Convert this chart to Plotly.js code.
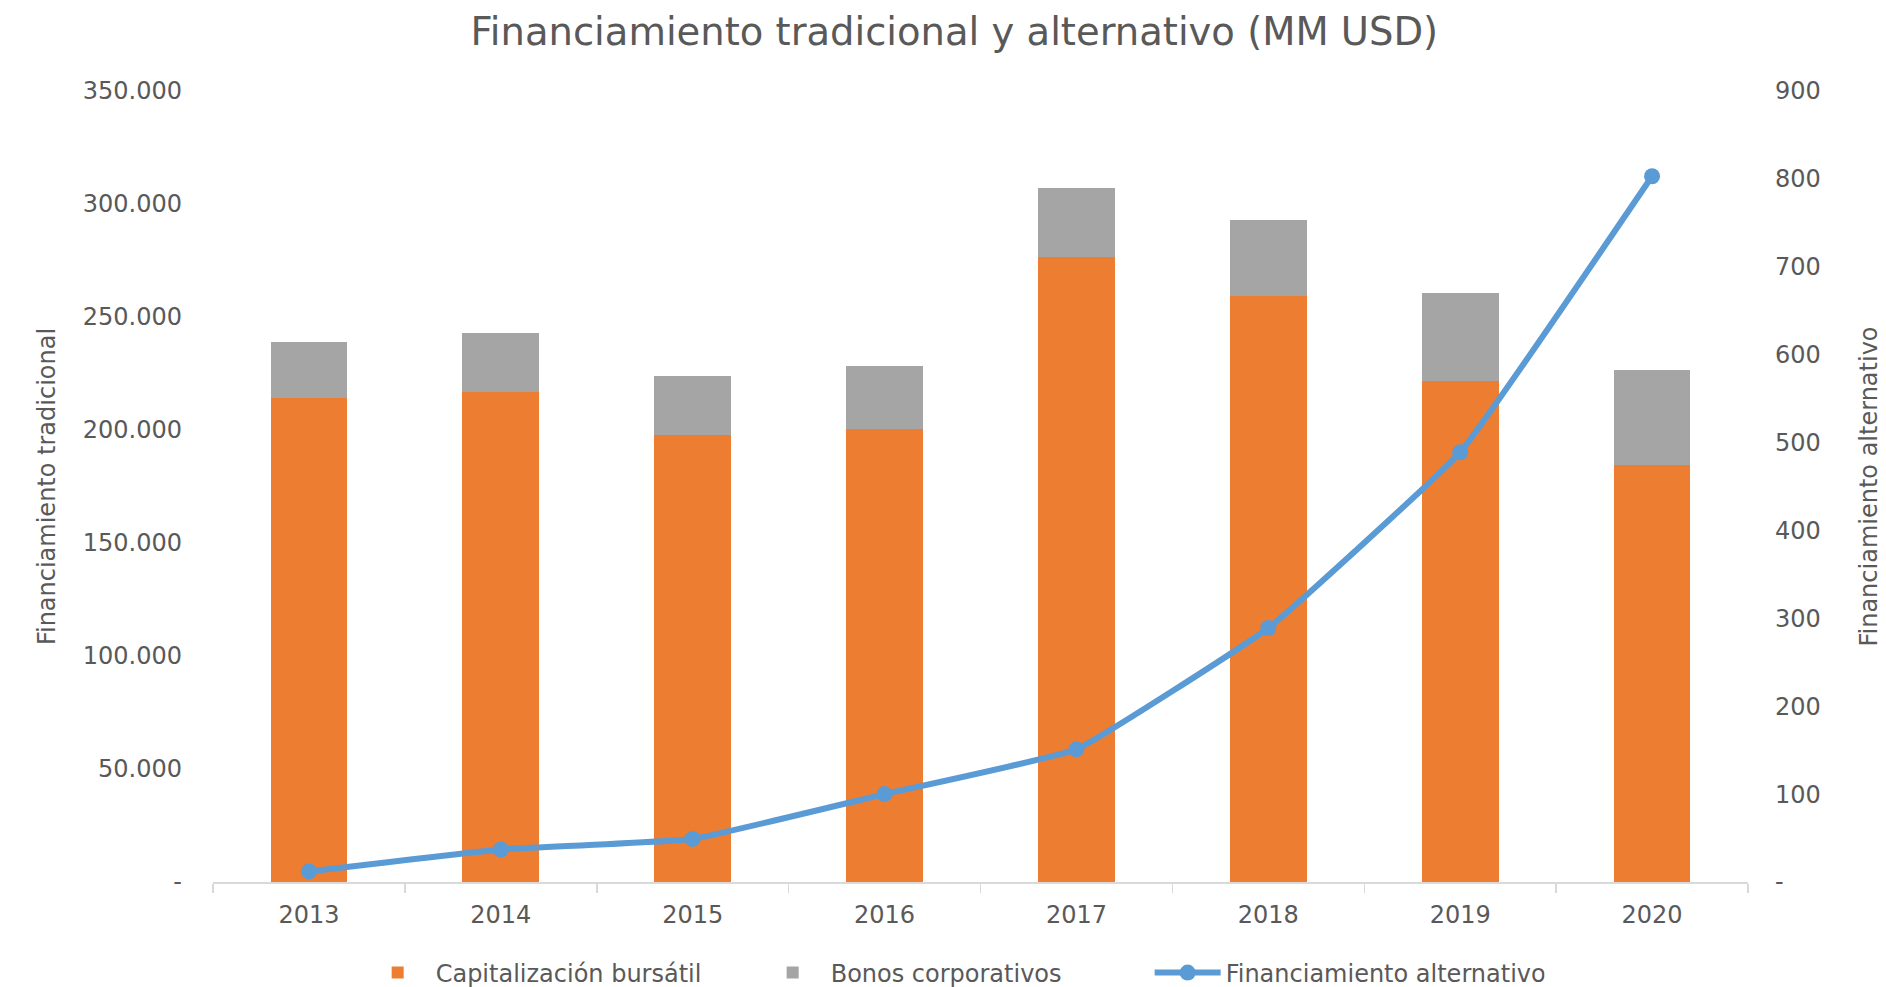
<!DOCTYPE html>
<html>
<head>
<meta charset="utf-8">
<script src="https://cdn.plot.ly/plotly-3.0.1.min.js"></script>
<style>
  html, body { margin: 0; padding: 0; background: #ffffff; }
  #chart { width: 1886px; height: 987px; }
</style>
</head>
<body>
<div id="chart"></div>
<script>
// ---- Data ----
const years = ["2013", "2014", "2015", "2016", "2017", "2018", "2019", "2020"];
const capitalizacion = [214000, 216700, 197800, 200400, 276600, 259200, 221700, 184300];
const bonos = [25100, 26100, 26300, 28100, 30700, 33700, 38900, 42300];
const alternativo = [12, 37, 49, 100, 151, 289, 489, 803];

const leftTickVals = [0, 50000, 100000, 150000, 200000, 250000, 300000, 350000];
const leftTickText = ["-", "50.000", "100.000", "150.000", "200.000", "250.000", "300.000", "350.000"];
const rightTickVals = [0, 100, 200, 300, 400, 500, 600, 700, 800, 900];
const rightTickText = ["-", "100", "200", "300", "400", "500", "600", "700", "800", "900"];

const textColor = "#595959";
const tickFont = { family: "DejaVu Sans", size: 24, color: textColor };
const titleFont = { family: "DejaVu Sans", size: 24, color: textColor };

const traces = [
  {
    type: "bar", name: "Capitalización bursátil", x: years, y: capitalizacion,
    marker: { color: "#ED7D31" }, yaxis: "y", hoverinfo: "skip"
  },
  {
    type: "bar", name: "Bonos corporativos", x: years, y: bonos,
    marker: { color: "#A5A5A5" }, yaxis: "y", hoverinfo: "skip"
  },
  {
    type: "scatter", mode: "lines+markers", name: "Financiamiento alternativo",
    x: years, y: alternativo, yaxis: "y2",
    line: { color: "#5B9BD5", width: 6, shape: "spline", smoothing: 0.3 },
    marker: { color: "#5B9BD5", size: 16 }, hoverinfo: "skip"
  }
];

const layout = {
  width: 1886, height: 987,
  paper_bgcolor: "#ffffff", plot_bgcolor: "#ffffff",
  margin: { l: 213, r: 138, t: 91, b: 105 },
  barmode: "stack",
  bargap: 0.6,
  showlegend: true,
  title: {
    text: "Financiamiento tradicional y alternativo (MM USD)",
    font: { family: "DejaVu Sans", size: 38.5, color: textColor },
    xref: "container", x: 0.506, xanchor: "center",
    yref: "container", y: 0.968, yanchor: "middle"
  },
  xaxis: {
    type: "category",
    showgrid: false, zeroline: false,
    showline: true, linecolor: "#d9d9d9", linewidth: 1.5,
    ticks: "outside", tickson: "boundaries", ticklen: 9, tickcolor: "#d9d9d9", tickwidth: 1.5,
    ticklabelstandoff: 11,
    tickfont: tickFont,
    fixedrange: true
  },
  yaxis: {
    range: [0, 350000],
    tickvals: leftTickVals, ticktext: leftTickText,
    showgrid: false, zeroline: false, showline: false,
    ticks: "", ticklabelstandoff: 30,
    tickfont: tickFont,
    title: { text: "Financiamiento tradicional", font: titleFont, standoff: 20 },
    fixedrange: true
  },
  yaxis2: {
    overlaying: "y", side: "right",
    range: [0, 900],
    tickvals: rightTickVals, ticktext: rightTickText,
    showgrid: false, zeroline: false, showline: false,
    ticks: "", ticklabelstandoff: 26,
    tickfont: tickFont,
    title: { text: "Financiamiento alternativo", font: titleFont, standoff: 40 },
    fixedrange: true
  },
  legend: {
    orientation: "h", traceorder: "normal",
    xref: "container", x: 0.1907, xanchor: "left",
    yref: "container", y: 0.0142, yanchor: "middle",
    font: { family: "DejaVu Sans", size: 24, color: textColor },
    itemwidth: 66,
    entrywidth: 314, entrywidthmode: "pixels"
  }
};

Plotly.newPlot("chart", traces, layout, { displayModeBar: false, staticPlot: true });
</script>
</body>
</html>
